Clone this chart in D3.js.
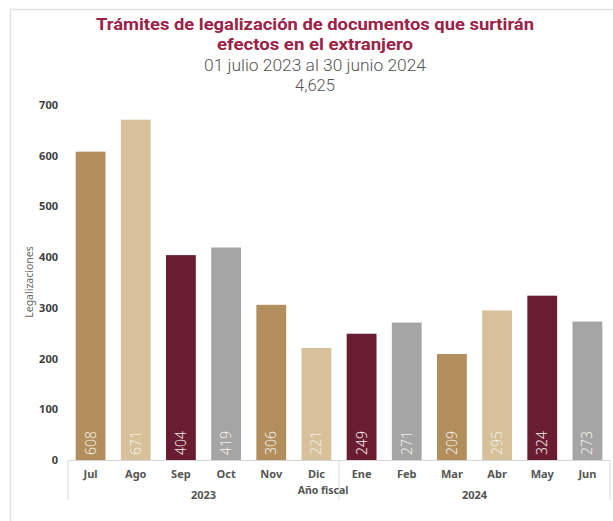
<!DOCTYPE html>
<html><head><meta charset="utf-8">
<script src="https://cdn.jsdelivr.net/npm/d3@7"></script>
<style>body{margin:0;background:#fff;}svg{display:block;font-family:"Noto Sans",sans-serif;}</style>
</head><body><svg id="c" width="613" height="521"></svg>
<script>
const months = ["Jul","Ago","Sep","Oct","Nov","Dic","Ene","Feb","Mar","Abr","May","Jun"];
const years = ["2023","2023","2023","2023","2023","2023","2024","2024","2024","2024","2024","2024"];
const values = [608,671,404,419,306,221,249,271,209,295,324,273];
const barColors = ["#B28E5C","#D6C19A","#6A1C32","#A5A5A5","#B28E5C","#D6C19A","#6A1C32","#A5A5A5","#B28E5C","#D6C19A","#6A1C32","#A5A5A5"];
const yTicks = [0,100,200,300,400,500,600,700];
const titleLines = ["Trámites de legalización de documentos que surtirán","efectos en el extranjero"];
const subLines = ["01 julio 2023 al 30 junio 2024","4,625"];

const svg = d3.select("#c");
// frame
svg.append("path").attr("d","M10.5,521 V9.5 H613").attr("fill","none").attr("stroke","#e3e3e3").attr("stroke-width",1.5);

const x = d3.scaleBand().domain(months).range([68,610]).paddingInner(0.34).paddingOuter(0.17);
const y = d3.scaleLinear().domain([0,700]).range([460,105]);

// titles
const titleW = [438, 196];
titleLines.forEach((t,i)=>svg.append("text").attr("x",315).attr("y",30+i*20).attr("text-anchor","middle")
  .attr("font-family","Roboto").attr("font-size",16).attr("font-weight","bold").attr("fill","#9B2247")
  .attr("textLength",titleW[i]).attr("lengthAdjust","spacingAndGlyphs").text(t));
const subW = [222, 40];
subLines.forEach((t,i)=>svg.append("text").attr("x",315).attr("y",71+i*19.5).attr("text-anchor","middle")
  .attr("font-family","Roboto").attr("font-size",16).attr("font-weight",300).attr("fill","#555")
  .attr("textLength",subW[i]).attr("lengthAdjust","spacingAndGlyphs").text(t));

// y axis
const ya = svg.append("g").attr("transform","translate(60,0)")
  .call(d3.axisLeft(y).tickValues(yTicks).tickSize(0).tickPadding(2));
ya.select(".domain").remove();
ya.selectAll("text").attr("font-size",11).attr("font-weight","bold").attr("fill","#404040").attr("font-family","Noto Sans");
svg.append("text").attr("transform","translate(33,282) rotate(-90)").attr("text-anchor","middle")
  .attr("font-size",10.5).attr("fill","#666").text("Legalizaciones");

// bars
svg.append("g").selectAll("rect").data(values).join("rect")
  .attr("x",(d,i)=>x(months[i])).attr("width",x.bandwidth())
  .attr("y",d=>y(d)).attr("height",d=>y(0)-y(d)).attr("fill",(d,i)=>barColors[i]);
svg.append("g").selectAll("text").data(values).join("text")
  .attr("transform",(d,i)=>`translate(${x(months[i])+x.bandwidth()/2+5},455) rotate(-90)`)
  .attr("font-size",14).attr("font-weight",300).attr("fill","#f4efe6").text(d=>d);

// x axis
const xa = svg.append("g").attr("transform","translate(0,460)")
  .call(d3.axisBottom(x).tickSize(0).tickPadding(10));
xa.select(".domain").attr("stroke","#d9d9d9");
xa.selectAll("text").attr("font-size",11).attr("font-weight","bold").attr("fill","#555").attr("font-family","Noto Sans");
// group separators
[68, 68+(610-68)/2, 610].forEach(sx=>svg.append("line").attr("x1",sx).attr("x2",sx).attr("y1",460).attr("y2",500)
  .attr("stroke","#d9d9d9"));
const yearNames = Array.from(new Set(years));
yearNames.forEach(yr=>{
  const idx = years.map((v,i)=>v===yr?i:-1).filter(i=>i>=0);
  const cx = (x(months[idx[0]]) + x(months[idx[idx.length-1]]) + x.bandwidth())/2;
  svg.append("text").attr("x",cx).attr("y",499).attr("text-anchor","middle").attr("font-size",11)
    .attr("font-weight","bold").attr("fill","#555").text(yr);
});
svg.append("text").attr("x",323).attr("y",494).attr("text-anchor","middle").attr("font-size",10.5)
  .attr("font-weight","bold").attr("fill","#555").text("Año fiscal");
</script></body></html>
